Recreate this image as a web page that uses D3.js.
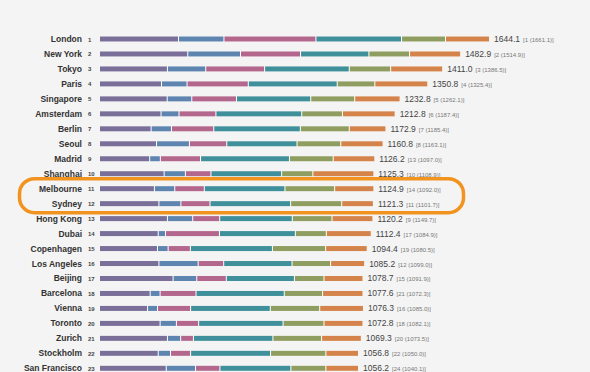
<!DOCTYPE html>
<html>
<head>
<meta charset="utf-8">
<script src="https://cdn.jsdelivr.net/npm/d3@7"></script>
<style>
  body { margin: 0; background: #f4f4f4; }
  svg { display: block; }
</style>
</head>
<body>
<svg id="chart" width="590" height="372"></svg>
<script>
const cities = ["London", "New York", "Tokyo", "Paris", "Singapore", "Amsterdam", "Berlin", "Seoul",
  "Madrid", "Shanghai", "Melbourne", "Sydney", "Hong Kong", "Dubai", "Copenhagen", "Los Angeles",
  "Beijing", "Barcelona", "Vienna", "Toronto", "Zurich", "Stockholm", "San Francisco"];
const ranks = d3.range(1, 24);
const totals = [1644.1, 1482.9, 1411.0, 1350.8, 1232.8, 1212.8, 1172.9, 1160.8, 1126.2, 1125.3, 1124.9,
  1121.3, 1120.2, 1112.4, 1094.4, 1085.2, 1078.7, 1077.6, 1076.3, 1072.8, 1069.3, 1056.8, 1056.2];
const prevRanks = [1, 2, 3, 4, 5, 6, 7, 8, 13, 10, 14, 11, 9, 17, 19, 12, 15, 21, 16, 18, 20, 22, 24];
const prevTotals = ["1661.1", "1514.9", "1386.5", "1325.4", "1262.1", "1187.4", "1185.4", "1163.1", "1097.0",
  "1108.9", "1092.0", "1101.7", "1149.7", "1084.9", "1080.5", "1099.0", "1091.9", "1072.3", "1085.0",
  "1082.1", "1073.5", "1050.0", "1040.1"];

// six component scores per city
const seg1 = [330, 369, 283, 258, 282, 256, 214, 237, 208, 269, 228, 247, 283, 244, 241, 247, 307, 210, 199, 252, 283, 244, 278];
const seg2 = [192, 223, 162, 108, 104, 76, 86, 139, 45, 90, 86, 93, 107, 31, 45, 166, 100, 42, 42, 69, 56, 52, 124];
const seg3 = [389, 254, 249, 259, 189, 156, 179, 158, 170, 108, 125, 123, 114, 228, 94, 108, 125, 152, 140, 94, 54, 85, 103];
const seg4 = [362, 289, 358, 376, 314, 363, 366, 297, 376, 299, 341, 341, 307, 321, 347, 289, 288, 373, 337, 357, 336, 338, 300];
const seg5 = [186, 172, 175, 159, 186, 172, 207, 185, 185, 132, 210, 216, 168, 131, 225, 163, 125, 162, 209, 173, 206, 234, 148];
const seg6 = [186, 216, 220, 224, 192, 223, 155, 179, 176, 258, 166, 134, 173, 190, 176, 144, 165, 171, 185, 165, 168, 138, 138];

const keys = ["s1", "s2", "s3", "s4", "s5", "s6"];
const colors = ["#7a6f98", "#5d85b0", "#b3678c", "#40909b", "#8f9e60", "#d4844a"];
const segs = [seg1, seg2, seg3, seg4, seg5, seg6];

const rows = cities.map((c, i) => {
  const r = { city: c, rank: ranks[i], total: totals[i], prevRank: prevRanks[i], prevTotal: prevTotals[i] };
  keys.forEach((k, j) => r[k] = segs[j][i]);
  return r;
});

const svg = d3.select("#chart");
svg.append("rect").attr("width", 590).attr("height", 372).attr("fill", "#f4f4f4");

const x = d3.scaleLinear().domain([0, 1645]).range([100, 489]);
const y = d3.scalePoint().domain(cities).range([39, 368.3]);
const barH = 5;
const color = d3.scaleOrdinal().domain(keys).range(colors);

const stacked = d3.stack().keys(keys)(rows);

// white underlay shows through the 1px gaps
svg.append("g").selectAll("rect")
  .data(rows)
  .join("rect")
  .attr("x", x(0))
  .attr("y", d => y(d.city) - barH / 2)
  .attr("width", d => x(d3.sum(keys, k => d[k])) - x(0))
  .attr("height", barH)
  .attr("fill", "#fff");

svg.append("g").selectAll("g")
  .data(stacked)
  .join("g")
  .attr("fill", d => color(d.key))
  .selectAll("rect")
  .data(d => d)
  .join("rect")
  .attr("x", d => x(d[0]) + (d[0] > 0 ? 1 : 0))
  .attr("y", d => y(d.data.city) - barH / 2)
  .attr("width", d => x(d[1]) - x(d[0]) - (d[0] > 0 ? 1 : 0))
  .attr("height", barH);

// city names
svg.append("g").selectAll("text")
  .data(rows)
  .join("text")
  .attr("x", 82)
  .attr("y", d => y(d.city) + 3)
  .attr("text-anchor", "end")
  .attr("fill", "#333")
  .style("font", "bold 8.5px 'Liberation Sans', Arial, sans-serif")
  .text(d => d.city);

// rank numbers
svg.append("g").selectAll("text")
  .data(rows)
  .join("text")
  .attr("x", 88)
  .attr("y", d => y(d.city) + 2.5)
  .attr("fill", "#444")
  .style("font", "bold 6px 'Liberation Sans', Arial, sans-serif")
  .text(d => d.rank);

// totals + previous year in brackets
const lab = svg.append("g").selectAll("text")
  .data(rows)
  .join("text")
  .attr("x", d => x(d3.sum(keys, k => d[k])) + 5)
  .attr("y", d => y(d.city) + 3)
  .style("font-family", "'Liberation Sans', Arial, sans-serif");
lab.append("tspan")
  .attr("fill", "#444")
  .style("font-size", "8.5px")
  .text(d => d.total.toFixed(1));
lab.append("tspan")
  .attr("dx", 3)
  .attr("fill", "#777")
  .style("font-size", "6px")
  .text(d => `[${d.prevRank} (${d.prevTotal})]`);

// highlight around Melbourne & Sydney
svg.append("rect")
  .attr("x", 19.5)
  .attr("y", y("Melbourne") - 10)
  .attr("width", 444)
  .attr("height", y("Sydney") - y("Melbourne") + 19)
  .attr("rx", 15)
  .attr("fill", "none")
  .attr("stroke", "#f2921f")
  .attr("stroke-width", 3.5);
</script>
</body>
</html>
